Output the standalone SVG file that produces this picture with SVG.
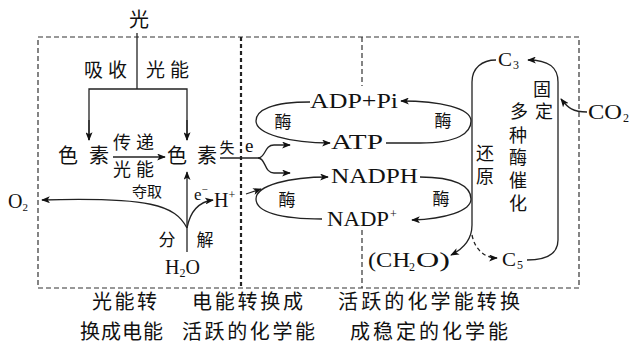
<svg xmlns="http://www.w3.org/2000/svg" width="633" height="350" viewBox="0 0 633 350">
<style>
.cn{font-family:"Noto Sans CJK SC","Noto Sans",sans-serif;fill:#111}
.lt{font-family:"Liberation Serif","DejaVu Serif",serif;fill:#111}
.ln{fill:none;stroke:#222;stroke-width:1.3}
.ds{fill:none;stroke:#333;stroke-width:1.2;stroke-dasharray:5 3}
</style>
<defs>
<marker id="ah" viewBox="0 0 10 8" refX="9" refY="4" markerWidth="9" markerHeight="7" markerUnits="userSpaceOnUse" orient="auto">
<path d="M0,0 L10,4 L0,8 L2.5,4 z" fill="#111"/>
</marker>
</defs>
<rect width="633" height="350" fill="#fff"/>
<g id="frame">
<rect class="ds" x="38" y="37" width="541" height="251"/>
<line x1="241" y1="37" x2="241" y2="288" stroke="#222" stroke-width="2.2" stroke-dasharray="4 3"/>
<line class="ds" x1="362" y1="37" x2="362" y2="86"/>
<line class="ds" x1="362" y1="230" x2="362" y2="288"/>
</g>
<g id="connectors">
<line class="ln" x1="137" y1="33" x2="137" y2="89"/>
<polyline class="ln" points="89,140 89,89 187,89 187,140"/>
<line class="ln" x1="89" y1="120" x2="89" y2="140" marker-end="url(#ah)"/>
<line class="ln" x1="187" y1="120" x2="187" y2="140" marker-end="url(#ah)"/>
<line class="ln" x1="113" y1="157" x2="165" y2="157" marker-end="url(#ah)"/>
<line class="ln" x1="220" y1="158" x2="258" y2="158"/>
<path class="ln" d="M258 158 C266 158 264 145 274 145 L290 145" marker-end="url(#ah)"/>
<path class="ln" d="M258 158 C266 158 264 173 274 173 L290 173" marker-end="url(#ah)"/>
<line class="ln" x1="187" y1="252" x2="187" y2="172" marker-end="url(#ah)"/>
<path class="ln" d="M187 228 C175 205 150 197 42 200" marker-end="url(#ah)"/>
<path class="ln" d="M187 228 C190 212 198 202 213 200" marker-end="url(#ah)"/>
<line class="ln" x1="246" y1="194" x2="261" y2="189" marker-end="url(#ah)"/>
<path class="ln" d="M310 102 C272 102 256 110 256 121 C256 134 290 143 330 143" marker-end="url(#ah)"/>
<path class="ln" d="M386 143 L420 143 C458 143 471 133 471 121 C471 108 440 101 401 101" marker-end="url(#ah)"/>
<path class="ln" d="M322 219 C280 219 256 212 256 199 C256 185 290 177 328 177" marker-end="url(#ah)"/>
<path class="ln" d="M420 177 C455 177 471 186 471 199 C471 211 445 219 412 220" marker-end="url(#ah)"/>
<path class="ln" d="M472 225 L472 82 C472 68 482 60 496 60"/>
<path class="ln" d="M558 240 L558 82 C558 68 550 60 528 60" marker-end="url(#ah)"/>
<path class="ln" d="M527 260 C545 260 558 255 558 240"/>
<path class="ln" d="M472 225 C472 240 463 249 451 255" marker-end="url(#ah)"/>
<path class="ln" d="M472 235 C475 250 485 258 497 258" stroke-dasharray="4 3" marker-end="url(#ah)"/>
<path class="ln" d="M587 112 C573 112 568 108 561 99" marker-end="url(#ah)"/>
</g>
<g id="light">
<text class="cn" x="139" y="27" font-size="20" text-anchor="middle">光</text>
<text class="cn" x="84" y="77" font-size="19" letter-spacing="5">吸收</text>
<text class="cn" x="146" y="77" font-size="19" letter-spacing="5">光能</text>
</g>
<g id="pigment1">
<text class="cn" x="68" y="163" font-size="20" text-anchor="middle">色</text>
<text class="cn" x="99" y="163" font-size="20" text-anchor="middle">素</text>
</g>
<g id="transfer">
<text class="cn" x="113" y="149" font-size="18" letter-spacing="5">传递</text>
<text class="cn" x="113" y="176" font-size="18" letter-spacing="5">光能</text>
</g>
<g id="pigment2">
<text class="cn" x="177" y="163" font-size="20" text-anchor="middle">色</text>
<text class="cn" x="207" y="163" font-size="20" text-anchor="middle">素</text>
<text class="cn" x="227" y="153" font-size="15" text-anchor="middle">失</text>
<text class="lt" x="245" y="152" font-size="19">e</text>
</g>
<g id="water">
<text class="cn" x="147" y="197" font-size="15" text-anchor="middle">夺取</text>
<text class="lt" x="194" y="200" font-size="17">e<tspan font-size="11" dy="-7">−</tspan></text>
<text class="lt" x="214" y="207" font-size="20">H<tspan font-size="12" dy="-8">+</tspan></text>
<text class="lt" x="8" y="208" font-size="20">O<tspan font-size="11" dy="3">2</tspan></text>
<text class="cn" x="167" y="246" font-size="17" text-anchor="middle">分</text>
<text class="cn" x="205" y="246" font-size="17" text-anchor="middle">解</text>
<text class="lt" x="165" y="274" font-size="20">H<tspan font-size="12" dy="3">2</tspan><tspan dy="-3">O</tspan></text>
</g>
<g id="atp-cycle">
<text class="lt" x="310" y="108" font-size="20" textLength="88" lengthAdjust="spacingAndGlyphs">ADP+Pi</text>
<text class="lt" x="331" y="149" font-size="20" textLength="52" lengthAdjust="spacingAndGlyphs">ATP</text>
<text class="cn" x="283" y="128" font-size="17" text-anchor="middle">酶</text>
<text class="cn" x="443" y="127" font-size="17" text-anchor="middle">酶</text>
</g>
<g id="nadph-cycle">
<text class="lt" x="331" y="183" font-size="20" textLength="87" lengthAdjust="spacingAndGlyphs">NADPH</text>
<text class="lt" x="327" y="226" font-size="20" textLength="62" lengthAdjust="spacingAndGlyphs">NADP</text>
<text class="lt" x="390" y="218" font-size="12">+</text>
<text class="cn" x="287" y="206" font-size="17" text-anchor="middle">酶</text>
<text class="cn" x="441" y="205" font-size="17" text-anchor="middle">酶</text>
</g>
<g id="calvin">
<text class="lt" x="498" y="66" font-size="19" textLength="14" lengthAdjust="spacingAndGlyphs">C</text>
<text class="lt" x="513" y="69" font-size="12">3</text>
<text class="lt" x="502" y="266" font-size="19" textLength="14" lengthAdjust="spacingAndGlyphs">C</text>
<text class="lt" x="517" y="269" font-size="12">5</text>
<text class="lt" x="368" y="267" font-size="20" textLength="42" lengthAdjust="spacingAndGlyphs">(CH</text>
<text class="lt" x="409" y="271" font-size="12">2</text>
<text class="lt" x="416" y="267" font-size="20" textLength="34" lengthAdjust="spacingAndGlyphs">O)</text>
<text class="lt" x="588" y="119" font-size="20" textLength="34" lengthAdjust="spacingAndGlyphs">CO</text>
<text class="lt" x="623" y="122" font-size="12">2</text>
<text class="cn" font-size="18" text-anchor="middle"><tspan x="542" y="96">固</tspan><tspan x="544" y="118">定</tspan></text>
<text class="cn" font-size="18" text-anchor="middle"><tspan x="519" y="118">多</tspan><tspan x="518" y="142">种</tspan><tspan x="518" y="164">酶</tspan><tspan x="518" y="187">催</tspan><tspan x="518" y="210">化</tspan></text>
<text class="cn" font-size="18" text-anchor="middle"><tspan x="485" y="160">还</tspan><tspan x="485" y="183">原</tspan></text>
</g>
<g id="labels">
<text class="cn" x="92" y="309" font-size="20" textLength="65" lengthAdjust="spacing">光能转</text>
<text class="cn" x="80" y="339" font-size="20" textLength="83" lengthAdjust="spacing">换成电能</text>
<text class="cn" x="192" y="309" font-size="20" textLength="111" lengthAdjust="spacing">电能转换成</text>
<text class="cn" x="182" y="339" font-size="20" textLength="133" lengthAdjust="spacing">活跃的化学能</text>
<text class="cn" x="338" y="309" font-size="20" textLength="182" lengthAdjust="spacing">活跃的化学能转换</text>
<text class="cn" x="350" y="339" font-size="20" textLength="158" lengthAdjust="spacing">成稳定的化学能</text>
</g>
</svg>
